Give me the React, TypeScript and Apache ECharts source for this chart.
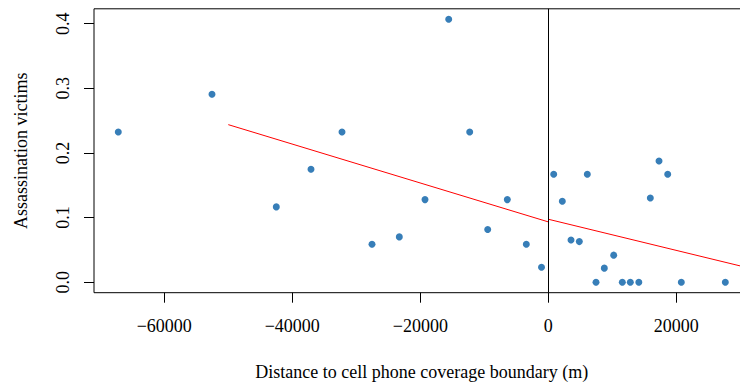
import React, { useEffect, useRef } from "react";
import * as echarts from "echarts";

const distance = [
  -67188, -52547, -42500, -37078, -32234, -27547, -23281, -19266, -15563, -12281,
  -9469, -6406, -3438, -1063, 844, 2188, 3547, 4844, 6094, 7453,
  8750, 10219, 11563, 12813, 14141, 15938, 17297, 18656, 20781, 27656,
];
const victims = [
  0.2325, 0.2908, 0.1165, 0.1748, 0.2325, 0.0588, 0.0701, 0.1278, 0.4068, 0.2325,
  0.0814, 0.1278, 0.0588, 0.0232, 0.167, 0.1253, 0.0654, 0.0628, 0.167, 0,
  0.0217, 0.0418, 0, 0, 0, 0.1304, 0.1876, 0.167, 0, 0,
];
const fitLeftX = [-50000, 0];
const fitLeftY = [0.2438, 0.0933];
const fitRightX = [0, 30000];
const fitRightY = [0.0974, 0.0251];
const xTicks = [-60000, -40000, -20000, 0, 20000];
const yTicks = [0, 0.1, 0.2, 0.3, 0.4];

const FONT = "'Liberation Serif', 'Times New Roman', serif";

export default function App() {
  const ref = useRef<HTMLDivElement>(null);
  useEffect(() => {
    document.body.style.margin = "0";
    if (!ref.current) return;
    const chart = echarts.init(ref.current, null, { renderer: "svg" });
    const points = distance.map((d, i) => [d, victims[i]]);
    chart.setOption({
      animation: false,
      backgroundColor: "#ffffff",
      grid: {
        left: 94,
        top: 8.8,
        width: 655.6,
        height: 283.9,
        outerBoundsMode: "none",
        containLabel: false,
        show: true,
        borderColor: "#000",
        borderWidth: 1,
        backgroundColor: "transparent",
      },
      xAxis: {
        type: "value",
        min: -70982,
        max: 31450,
        splitLine: { show: false },
        axisLine: { show: false, onZero: false },
        axisTick: {
          show: true,
          inside: false,
          length: 10,
          customValues: xTicks,
          lineStyle: { color: "#000", width: 1 },
        },
        axisLabel: {
          customValues: xTicks,
          margin: 24,
          fontFamily: FONT,
          fontSize: 18,
          color: "#000",
          formatter: (v: number) => (v < 0 ? "\u2212" + Math.abs(v) : String(v)),
        },
        name: "Distance to cell phone coverage boundary (m)",
        nameLocation: "middle",
        nameGap: 70,
        nameTextStyle: { fontFamily: FONT, fontSize: 18, color: "#000" },
      },
      yAxis: {
        type: "value",
        min: -0.0163,
        max: 0.4231,
        splitLine: { show: false },
        axisLine: { show: false, onZero: false },
        axisTick: {
          show: true,
          inside: false,
          length: 10,
          customValues: yTicks,
          lineStyle: { color: "#000", width: 1 },
        },
        axisLabel: {
          customValues: yTicks,
          margin: 22.5,
          rotate: 90,
          fontFamily: FONT,
          fontSize: 18,
          color: "#000",
          formatter: (v: number) => v.toFixed(1),
        },
        name: "Assassination victims",
        nameLocation: "middle",
        nameGap: 64,
        nameTextStyle: { fontFamily: FONT, fontSize: 18, color: "#000" },
      },
      series: [
        {
          type: "line",
          data: fitLeftX.map((x, i) => [x, fitLeftY[i]]),
          showSymbol: false,
          lineStyle: { color: "#ff0000", width: 1 },
          silent: true,
          z: 2,
        },
        {
          type: "line",
          data: fitRightX.map((x, i) => [x, fitRightY[i]]),
          showSymbol: false,
          lineStyle: { color: "#ff0000", width: 1 },
          silent: true,
          z: 2,
          markLine: {
            silent: true,
            symbol: "none",
            label: { show: false },
            lineStyle: { color: "#000", width: 1, type: "solid" },
            data: [{ xAxis: 0 }],
          },
        },
        {
          type: "scatter",
          data: points,
          symbol: "circle",
          symbolSize: 7,
          itemStyle: { color: "#377eb8", opacity: 1 },
          z: 3,
        },
      ],
    });
    return () => chart.dispose();
  }, []);
  return <div ref={ref} style={{ width: 740, height: 386 }} />;
}
